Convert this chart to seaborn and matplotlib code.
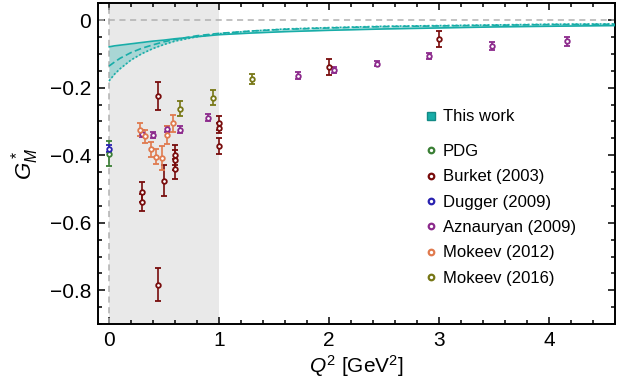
import numpy as np
import pandas as pd
import matplotlib
matplotlib.use('Agg')
import matplotlib.pyplot as plt
import seaborn as sns
from matplotlib.ticker import MultipleLocator, FuncFormatter
from matplotlib.lines import Line2D

sns.set_theme(style="ticks")
plt.rcParams['font.family'] = ['Liberation Sans', 'DejaVu Sans']
plt.rcParams['mathtext.fontset'] = 'custom'
plt.rcParams['mathtext.rm'] = 'Liberation Sans'
plt.rcParams['mathtext.it'] = 'Liberation Sans:italic'
plt.rcParams['text.color'] = 'black'
plt.rcParams['axes.labelcolor'] = 'black'
plt.rcParams['xtick.color'] = 'black'
plt.rcParams['ytick.color'] = 'black'

# "This work" band
q2_curve = [0, 0.05, 0.1, 0.2, 0.3, 0.4, 0.5, 0.6, 0.8, 1.0, 1.3, 1.6, 2.0, 2.5, 3.0, 3.5, 4.0, 4.6]
g_solid = [-0.079, -0.076, -0.074, -0.070, -0.066, -0.062, -0.059, -0.055, -0.049, -0.043,
           -0.038, -0.034, -0.030, -0.026, -0.023, -0.020, -0.018, -0.016]
g_dashed = [-0.136, -0.124, -0.113, -0.096, -0.083, -0.073, -0.064, -0.057, -0.046, -0.039,
            -0.032, -0.027, -0.023, -0.019, -0.017, -0.015, -0.013, -0.012]
g_dotted = [-0.180, -0.160, -0.144, -0.118, -0.099, -0.084, -0.072, -0.062, -0.049, -0.040,
            -0.032, -0.026, -0.022, -0.018, -0.016, -0.014, -0.012, -0.011]

# experimental points: Q2, G*_M, error
pdg_q2, pdg_g, pdg_err = [0.0], [-0.395], [0.036]
burket_q2 = [0.30, 0.30, 0.45, 0.45, 0.50, 0.60, 0.60, 0.60, 1.0, 1.0, 1.0, 2.0, 3.0]
burket_g = [-0.51, -0.54, -0.225, -0.783, -0.475, -0.40, -0.415, -0.44, -0.305, -0.32, -0.373, -0.138, -0.055]
burket_err = [0.03, 0.025, 0.042, 0.05, 0.046, 0.03, 0.03, 0.03, 0.02, 0.015, 0.023, 0.023, 0.023]
dugger_q2, dugger_g, dugger_err = [0.0], [-0.381], [0.01]
azn_q2 = [0.30, 0.40, 0.525, 0.65, 0.90, 1.72, 2.05, 2.44, 2.91, 3.48, 4.16]
azn_g = [-0.336, -0.339, -0.322, -0.324, -0.289, -0.164, -0.148, -0.129, -0.106, -0.077, -0.063]
azn_err = [0.01, 0.009, 0.01, 0.01, 0.01, 0.01, 0.009, 0.008, 0.009, 0.012, 0.013]
mok12_q2 = [0.28, 0.33, 0.38, 0.43, 0.48, 0.53, 0.58]
mok12_g = [-0.324, -0.344, -0.383, -0.405, -0.408, -0.339, -0.306]
mok12_err = [0.018, 0.02, 0.021, 0.022, 0.035, 0.027, 0.024]
mok16_q2 = [0.65, 0.95, 1.30]
mok16_g = [-0.262, -0.23, -0.174]
mok16_err = [0.022, 0.022, 0.015]

teal = '#18ada8'
curves = pd.DataFrame({'Q2': q2_curve, 'solid': g_solid, 'dashed': g_dashed, 'dotted': g_dotted})

fig = plt.figure(figsize=(6.31, 3.89), dpi=100)
ax = fig.add_axes([0.1553, 0.167, 0.8193, 0.8245])

ax.axvspan(0, 1, color='#e9e9e9', lw=0, zorder=0)
ax.axhline(0, color='#b0b0b0', ls=(0, (4, 3)), lw=1.1, zorder=1)
ax.axvline(0, color='#b0b0b0', ls=(0, (4, 3)), lw=1.1, zorder=1)

ax.fill_between(curves['Q2'], curves['solid'], curves['dotted'], color=teal, alpha=0.3, lw=0, zorder=2)
sns.lineplot(data=curves, x='Q2', y='solid', ax=ax, color=teal, lw=1.2, zorder=3)
sns.lineplot(data=curves, x='Q2', y='dashed', ax=ax, color=teal, lw=1.2, ls=(0, (4, 2)), zorder=3)
sns.lineplot(data=curves, x='Q2', y='dotted', ax=ax, color=teal, lw=1.2, ls=(0, (1.2, 1.2)), zorder=3)

series = [
    ('PDG', pdg_q2, pdg_g, pdg_err, '#3a7f35'),
    ('Burket (2003)', burket_q2, burket_g, burket_err, '#780c0c'),
    ('Dugger (2009)', dugger_q2, dugger_g, dugger_err, '#2a22b0'),
    ('Aznauryan (2009)', azn_q2, azn_g, azn_err, '#8c2a8c'),
    ('Mokeev (2012)', mok12_q2, mok12_g, mok12_err, '#e07a4e'),
    ('Mokeev (2016)', mok16_q2, mok16_g, mok16_err, '#777716'),
]
handles = []
for name, xs, ys, es, c in series:
    ax.errorbar(xs, ys, yerr=es, fmt='o', ms=3.3, mfc='white', mec=c, mew=1.3,
                ecolor=c, elinewidth=1.2, capsize=2.5, capthick=1.2, zorder=4)
    handles.append(Line2D([], [], ls='none', marker='o', ms=4, mfc='white', mec=c, mew=1.6, label=name))

ax.set_xlim(-0.1, 4.6)
ax.set_ylim(-0.9, 0.05)
ax.xaxis.set_major_locator(MultipleLocator(1))
ax.xaxis.set_minor_locator(MultipleLocator(0.2))
ax.yaxis.set_major_locator(MultipleLocator(0.2))
ax.yaxis.set_minor_locator(MultipleLocator(0.05))
ax.yaxis.set_major_formatter(FuncFormatter(lambda v, p: '0' if abs(v) < 1e-9 else f'{v:.1f}'.replace('-', '\u2212')))
ax.tick_params(which='both', direction='in', top=True, right=True, color='black', width=1.1, labelsize=15)
ax.tick_params(which='major', length=5, pad=5)
ax.tick_params(which='minor', length=3)
for s in ax.spines.values():
    s.set_color('black')
    s.set_linewidth(1.4)

ax.set_xlabel(r'$Q^2$ [GeV$^2$]', fontsize=15, labelpad=2)
ax.set_ylabel(r'$G_M^*$', fontsize=16, labelpad=6)

h_this = Line2D([], [], ls='none', marker='s', ms=6, mfc=teal, mec='#138a85', label='This work')
leg1 = ax.legend(handles=[h_this], loc='upper left', bbox_to_anchor=(0.612, 0.69), frameon=False,
                 fontsize=12, handletextpad=0.1, handlelength=1.2, borderaxespad=0)
ax.add_artist(leg1)
ax.legend(handles=handles, loc='upper left', bbox_to_anchor=(0.612, 0.582), frameon=False,
          fontsize=12, handletextpad=0.1, handlelength=1.2, labelspacing=0.62, borderaxespad=0)

fig.savefig('out.png', dpi=100)
